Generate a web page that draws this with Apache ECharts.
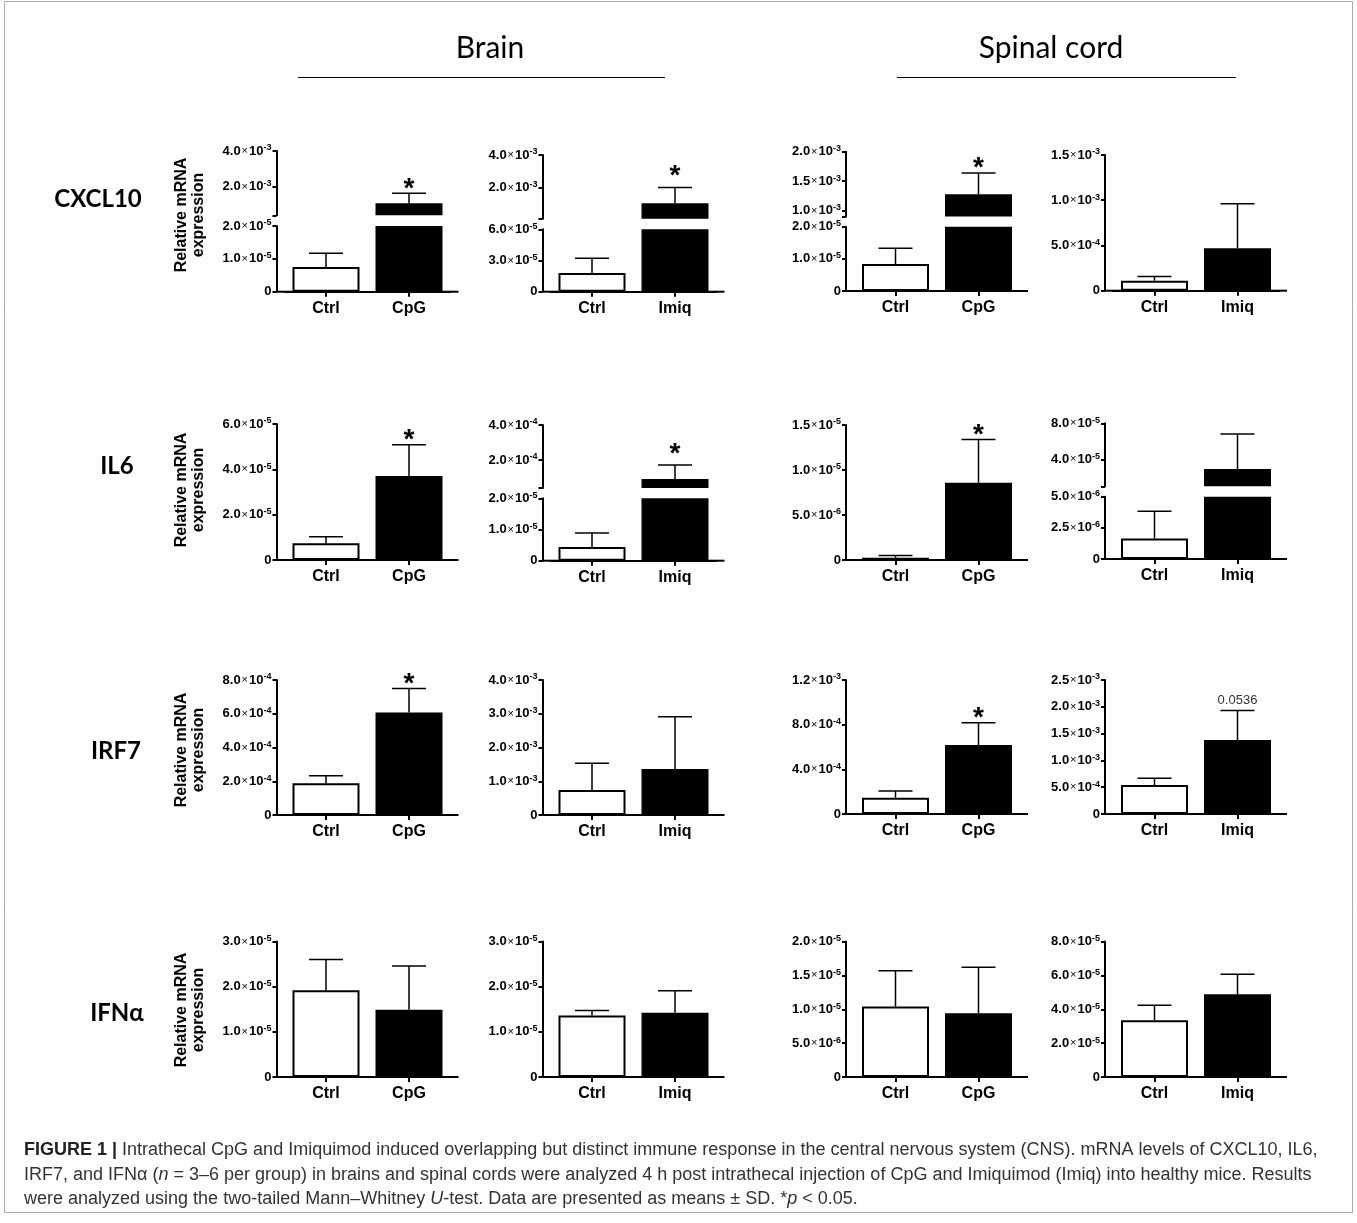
<!DOCTYPE html>
<html><head><meta charset="utf-8">
<script src="https://cdn.jsdelivr.net/npm/echarts@6/dist/echarts.min.js"></script>
<style>html,body{margin:0;padding:0;background:#fff}#c{width:1357px;height:1223px}</style>
</head><body><div id="c"></div>
<script>
// ================= DATA =================
const genes = ['CXCL10', 'IL6', 'IRF7', 'IFNα'];
const tissues = ['Brain', 'Spinal cord'];
const catsCpG = ['Ctrl', 'CpG'];
const catsImiq = ['Ctrl', 'Imiq'];
const panelCats = [catsCpG, catsImiq, catsCpG, catsImiq]; // Brain CpG, Brain Imiq, Spinal CpG, Spinal Imiq

// mean values [Ctrl, treated] per panel
const cxcl10Mean = [[0.75e-5, 1.07e-3], [1.8e-5, 1.05e-3], [0.84e-5, 1.28e-3], [1.1e-4, 4.7e-4]];
const il6Mean    = [[0.74e-5, 3.71e-5], [0.44e-5, 0.91e-4], [0.26e-6, 8.59e-6], [1.65e-6, 2.92e-5]];
const irf7Mean   = [[1.88e-4, 6.08e-4], [0.74e-3, 1.36e-3], [1.46e-4, 6.17e-4], [5.41e-4, 1.38e-3]];
const ifnaMean   = [[1.92e-5, 1.49e-5], [1.36e-5, 1.42e-5], [1.04e-5, 0.94e-5], [3.35e-5, 4.88e-5]];

// mean + SD (top of whisker) [Ctrl, treated] per panel
const cxcl10MeanPlusSD = [[1.17e-5, 1.63e-3], [3.22e-5, 2.02e-3], [1.33e-5, 1.64e-3], [1.56e-4, 9.6e-4]];
const il6MeanPlusSD    = [[1.03e-5, 5.08e-5], [0.89e-5, 1.71e-4], [0.5e-6, 13.4e-6], [3.83e-6, 6.8e-5]];
const irf7MeanPlusSD   = [[2.33e-4, 7.5e-4], [1.53e-3, 2.91e-3], [2.06e-4, 8.17e-4], [6.66e-4, 1.93e-3]];
const ifnaMeanPlusSD   = [[2.6e-5, 2.46e-5], [1.47e-5, 1.91e-5], [1.57e-5, 1.62e-5], [4.24e-5, 6.06e-5]];

// significance label over the treated bar
const cxcl10Sig = ['*', '*', '*', ''];
const il6Sig    = ['*', '*', '*', ''];
const irf7Sig   = ['*', '', '*', '0.0536'];
const ifnaSig   = ['', '', '', ''];

// y axis segments per panel (bottom segment first; two segments = broken axis) with tick labels
const cxcl10Axes = [
  [{min: 0, max: 2e-5, ticks: [0, 1e-5, 2e-5]}, {min: 0.4e-3, max: 4e-3, ticks: [2e-3, 4e-3]}],
  [{min: 0, max: 6e-5, ticks: [0, 3e-5, 6e-5]}, {min: 0.1e-3, max: 4e-3, ticks: [2e-3, 4e-3]}],
  [{min: 0, max: 2e-5, ticks: [0, 1e-5, 2e-5]}, {min: 0.9e-3, max: 2e-3, ticks: [1e-3, 1.5e-3, 2e-3]}],
  [{min: 0, max: 1.5e-3, ticks: [0, 5e-4, 1e-3, 1.5e-3]}]
];
const il6Axes = [
  [{min: 0, max: 6e-5, ticks: [0, 2e-5, 4e-5, 6e-5]}],
  [{min: 0, max: 2e-5, ticks: [0, 1e-5, 2e-5]}, {min: 0.4e-4, max: 4e-4, ticks: [2e-4, 4e-4]}],
  [{min: 0, max: 1.5e-5, ticks: [0, 5e-6, 1e-5, 1.5e-5]}],
  [{min: 0, max: 5e-6, ticks: [0, 2.5e-6, 5e-6]}, {min: 1e-5, max: 8e-5, ticks: [4e-5, 8e-5]}]
];
const irf7Axes = [
  [{min: 0, max: 8e-4, ticks: [0, 2e-4, 4e-4, 6e-4, 8e-4]}],
  [{min: 0, max: 4e-3, ticks: [0, 1e-3, 2e-3, 3e-3, 4e-3]}],
  [{min: 0, max: 1.2e-3, ticks: [0, 4e-4, 8e-4, 1.2e-3]}],
  [{min: 0, max: 2.5e-3, ticks: [0, 5e-4, 1e-3, 1.5e-3, 2e-3, 2.5e-3]}]
];
const ifnaAxes = [
  [{min: 0, max: 3e-5, ticks: [0, 1e-5, 2e-5, 3e-5]}],
  [{min: 0, max: 3e-5, ticks: [0, 1e-5, 2e-5, 3e-5]}],
  [{min: 0, max: 2e-5, ticks: [0, 5e-6, 1e-5, 1.5e-5, 2e-5]}],
  [{min: 0, max: 8e-5, ticks: [0, 2e-5, 4e-5, 6e-5, 8e-5]}]
];

const yAxisTitle = 'Relative mRNA\nexpression';
const captionLines = [
  [['FIGURE 1 | ', 'b'], ['Intrathecal CpG and Imiquimod induced overlapping but distinct immune response in the central nervous system (CNS). mRNA levels of CXCL10, IL6,', 'n']],
  [['IRF7, and IFNα (', 'n'], ['n', 'i'], [' = 3–6 per group) in brains and spinal cords were analyzed 4 h post intrathecal injection of CpG and Imiquimod (Imiq) into healthy mice. Results', 'n']],
  [['were analyzed using the two-tailed Mann–Whitney ', 'n'], ['U', 'i'], ['-test. Data are presented as means ± SD. *', 'n'], ['p', 'i'], [' < 0.05.', 'n']]
];

// ================= LAYOUT (pixels) =================
const colX = [276.5, 542.5, 846, 1105];   // y-axis line x per column
const panelW = 182;
const shiftIn = 8;
const segLayout = [
  [[[226, 291.7], [151, 215.3]], [[229.3, 291.7], [155, 218.8]], [[226.7, 291], [151.7, 216.6]], [[155, 290.7]]],
  [[[424, 560]], [[498.3, 560.7], [425, 488]], [[425, 560]], [[496.7, 559], [423.3, 486.3]]],
  [[[680, 815]], [[680, 815]], [[680, 814]], [[680, 814]]],
  [[[941.5, 1077]], [[941.5, 1077]], [[941.5, 1077]], [[941.5, 1077]]]
];
const rowLabelPos = [[98, 199], [117, 466], [116, 751], [117, 1013]];
const yTitleY = [215, 490, 750, 1010];
const starGap = [11.5, 18, 11.5, 11.5];

const rows = [
  {mean: cxcl10Mean, upper: cxcl10MeanPlusSD, axes: cxcl10Axes, sig: cxcl10Sig},
  {mean: il6Mean, upper: il6MeanPlusSD, axes: il6Axes, sig: il6Sig},
  {mean: irf7Mean, upper: irf7MeanPlusSD, axes: irf7Axes, sig: irf7Sig},
  {mean: ifnaMean, upper: ifnaMeanPlusSD, axes: ifnaAxes, sig: ifnaSig}
];

const FONT = "'Liberation Sans', Arial, sans-serif";
function fmtTick(v) {
  if (v === 0) return '{m|0}';
  const parts = v.toExponential(1).split('e');
  return '{m|' + parts[0] + '}{x|×}{m|10}{e|' + parts[1].replace('+', '') + '}';
}
const tickRich = {
  m: {fontSize: 13, fontWeight: 'bold', color: '#000', fontFamily: FONT, lineHeight: 15},
  x: {fontSize: 11, color: '#000', fontFamily: FONT, padding: [0, 1, 0, 1], lineHeight: 15},
  e: {fontSize: 9, fontWeight: 'bold', color: '#000', fontFamily: FONT, verticalAlign: 'top', lineHeight: 9}
};

const grid = [], xAxis = [], yAxis = [], series = [];
const ctrlStyle = {color: '#fff', borderColor: '#000', borderWidth: 2};
const trtStyle = {color: '#000', borderColor: '#000', borderWidth: 0};

rows.forEach((row, r) => {
  row.axes.forEach((segs, c) => {
    segs.forEach((seg, s) => {
      const [top, bottom] = segLayout[r][c][s];
      const gi = grid.length;
      grid.push({left: colX[c] + shiftIn, top: top, width: panelW - 2 * shiftIn, height: bottom - top});
      xAxis.push({
        type: 'category', gridIndex: gi, data: panelCats[c], show: s === 0, boundaryGap: true,
        axisLine: {show: true, lineStyle: {color: '#000', width: 2}, symbol: ['rect', 'rect'], symbolSize: [2, shiftIn * 2]},
        axisTick: {show: true, alignWithLabel: true, length: 5, lineStyle: {color: '#000', width: 2}},
        axisLabel: {color: '#000', fontWeight: 'bold', fontSize: 16, fontFamily: FONT, margin: 9}
      });
      yAxis.push({
        type: 'value', gridIndex: gi, min: seg.min, max: seg.max, offset: shiftIn,
        splitLine: {show: false},
        axisLine: {show: true, lineStyle: {color: '#000', width: 2}},
        axisTick: {show: true, length: 4, lineStyle: {color: '#000', width: 2},
          customValues: s > 0 ? [seg.min].concat(seg.ticks) : seg.ticks},
        axisLabel: {customValues: seg.ticks, formatter: fmtTick, rich: tickRich, margin: 5}
      });
      series.push({
        type: 'bar', xAxisIndex: gi, yAxisIndex: gi, barWidth: 67, clip: true, animation: false,
        data: row.mean[c].map((m, i) => (s > 0 && m < seg.min) ? '-' : {value: m, itemStyle: i === 0 ? ctrlStyle : trtStyle})
      });
      const sig = row.sig[c];
      series.push({
        type: 'custom', xAxisIndex: gi, yAxisIndex: gi, animation: false, z: 5,
        encode: {x: 0, y: 1},
        data: row.mean[c].map((m, i) => [i, m, row.upper[c][i]]),
        renderItem: function (params, api) {
          const i = api.value(0), m = api.value(1), u = api.value(2);
          if (u > seg.max * 1.0000001 || u < seg.min) return null;
          const p0 = api.coord([i, Math.max(m, seg.min)]);
          const p1 = api.coord([i, u]);
          const children = [
            {type: 'line', shape: {x1: p0[0], y1: p0[1], x2: p1[0], y2: p1[1]}, style: {stroke: '#000', lineWidth: 1.5}},
            {type: 'line', shape: {x1: p1[0] - 17, y1: p1[1], x2: p1[0] + 17, y2: p1[1]}, style: {stroke: '#000', lineWidth: 1.5}}
          ];
          if (i === 1 && sig) {
            if (sig === '*') {
              children.push({type: 'text', x: p1[0], y: p1[1] - starGap[c] + 7,
                style: {text: '*', fontSize: 28, fontWeight: 'bold', fontFamily: FONT, fill: '#000', align: 'center', verticalAlign: 'middle', textAlign: 'center', textVerticalAlign: 'middle'}});
            } else {
              children.push({type: 'text', x: p1[0], y: p1[1] - 10,
                style: {text: sig, fontSize: 13, fontFamily: FONT, fill: '#333', align: 'center', verticalAlign: 'middle', textAlign: 'center', textVerticalAlign: 'middle'}});
            }
          }
          return {type: 'group', children: children};
        }
      });
    });
  });
});

// ----- graphic texts -----
const graphic = [];
graphic.push({type: 'rect', z: -1, shape: {x: 4.5, y: 1.5, width: 1348, height: 1211}, style: {fill: 'none', stroke: '#aaa', lineWidth: 1}});
const headerX = [490, 1051];
const headerLine = [[298, 665], [897, 1236]];
tissues.forEach((t, k) => {
  graphic.push({type: 'text', x: headerX[k], y: 48, style: {text: t, fontSize: 30, fontFamily: "Lato, 'Open Sans', sans-serif", fill: '#000', align: 'center', verticalAlign: 'middle', textAlign: 'center', textVerticalAlign: 'middle'}});
  graphic.push({type: 'line', shape: {x1: headerLine[k][0], y1: 77.5, x2: headerLine[k][1], y2: 77.5}, style: {stroke: '#000', lineWidth: 1}});
});
genes.forEach((g, r) => {
  graphic.push({type: 'text', x: rowLabelPos[r][0], y: rowLabelPos[r][1], style: {text: g, fontSize: 24, fontWeight: 'bold', fontFamily: "Lato, 'Open Sans', sans-serif", fill: '#000', align: 'center', verticalAlign: 'middle', textAlign: 'center', textVerticalAlign: 'middle'}});
  graphic.push({type: 'text', x: 190.5, y: yTitleY[r], rotation: Math.PI / 2, style: {text: yAxisTitle, fontSize: 16, fontWeight: 'bold', fontFamily: FONT, lineHeight: 17, fill: '#000', align: 'center', verticalAlign: 'middle', textAlign: 'center', textVerticalAlign: 'middle'}});
});

// caption: fit font size to the reference line width
function measureLine(parts, fs) {
  const ctx = document.createElement('canvas').getContext('2d');
  let w = 0;
  parts.forEach(([t, st]) => {
    ctx.font = (st === 'i' ? 'italic ' : '') + (st === 'b' ? 'bold ' : '') + fs + "px 'Liberation Sans'";
    w += ctx.measureText(t).width;
  });
  return w;
}
let capFs = 16 * 1312 / measureLine(captionLines[0], 16);
capFs = Math.max(13, Math.min(18, capFs));
const capRich = {
  n: {fontSize: capFs, fontFamily: FONT, fill: '#333'},
  b: {fontSize: capFs, fontFamily: FONT, fontWeight: 'bold', fill: '#222'},
  i: {fontSize: capFs, fontFamily: FONT, fontStyle: 'italic', fill: '#333'}
};
const capY = [1150, 1175, 1199];
captionLines.forEach((parts, k) => {
  graphic.push({type: 'text', x: 24, y: capY[k], style: {
    text: parts.map(([t, st]) => '{' + st + '|' + t + '}').join(''),
    rich: capRich, fontSize: capFs, fontFamily: FONT, fill: '#333',
    align: 'left', verticalAlign: 'middle', textAlign: 'left', textVerticalAlign: 'middle'}});
});

const chart = echarts.init(document.getElementById('c'), null, {renderer: 'canvas'});
chart.setOption({animation: false, backgroundColor: '#fff', grid, xAxis, yAxis, series, graphic});
</script></body></html>
